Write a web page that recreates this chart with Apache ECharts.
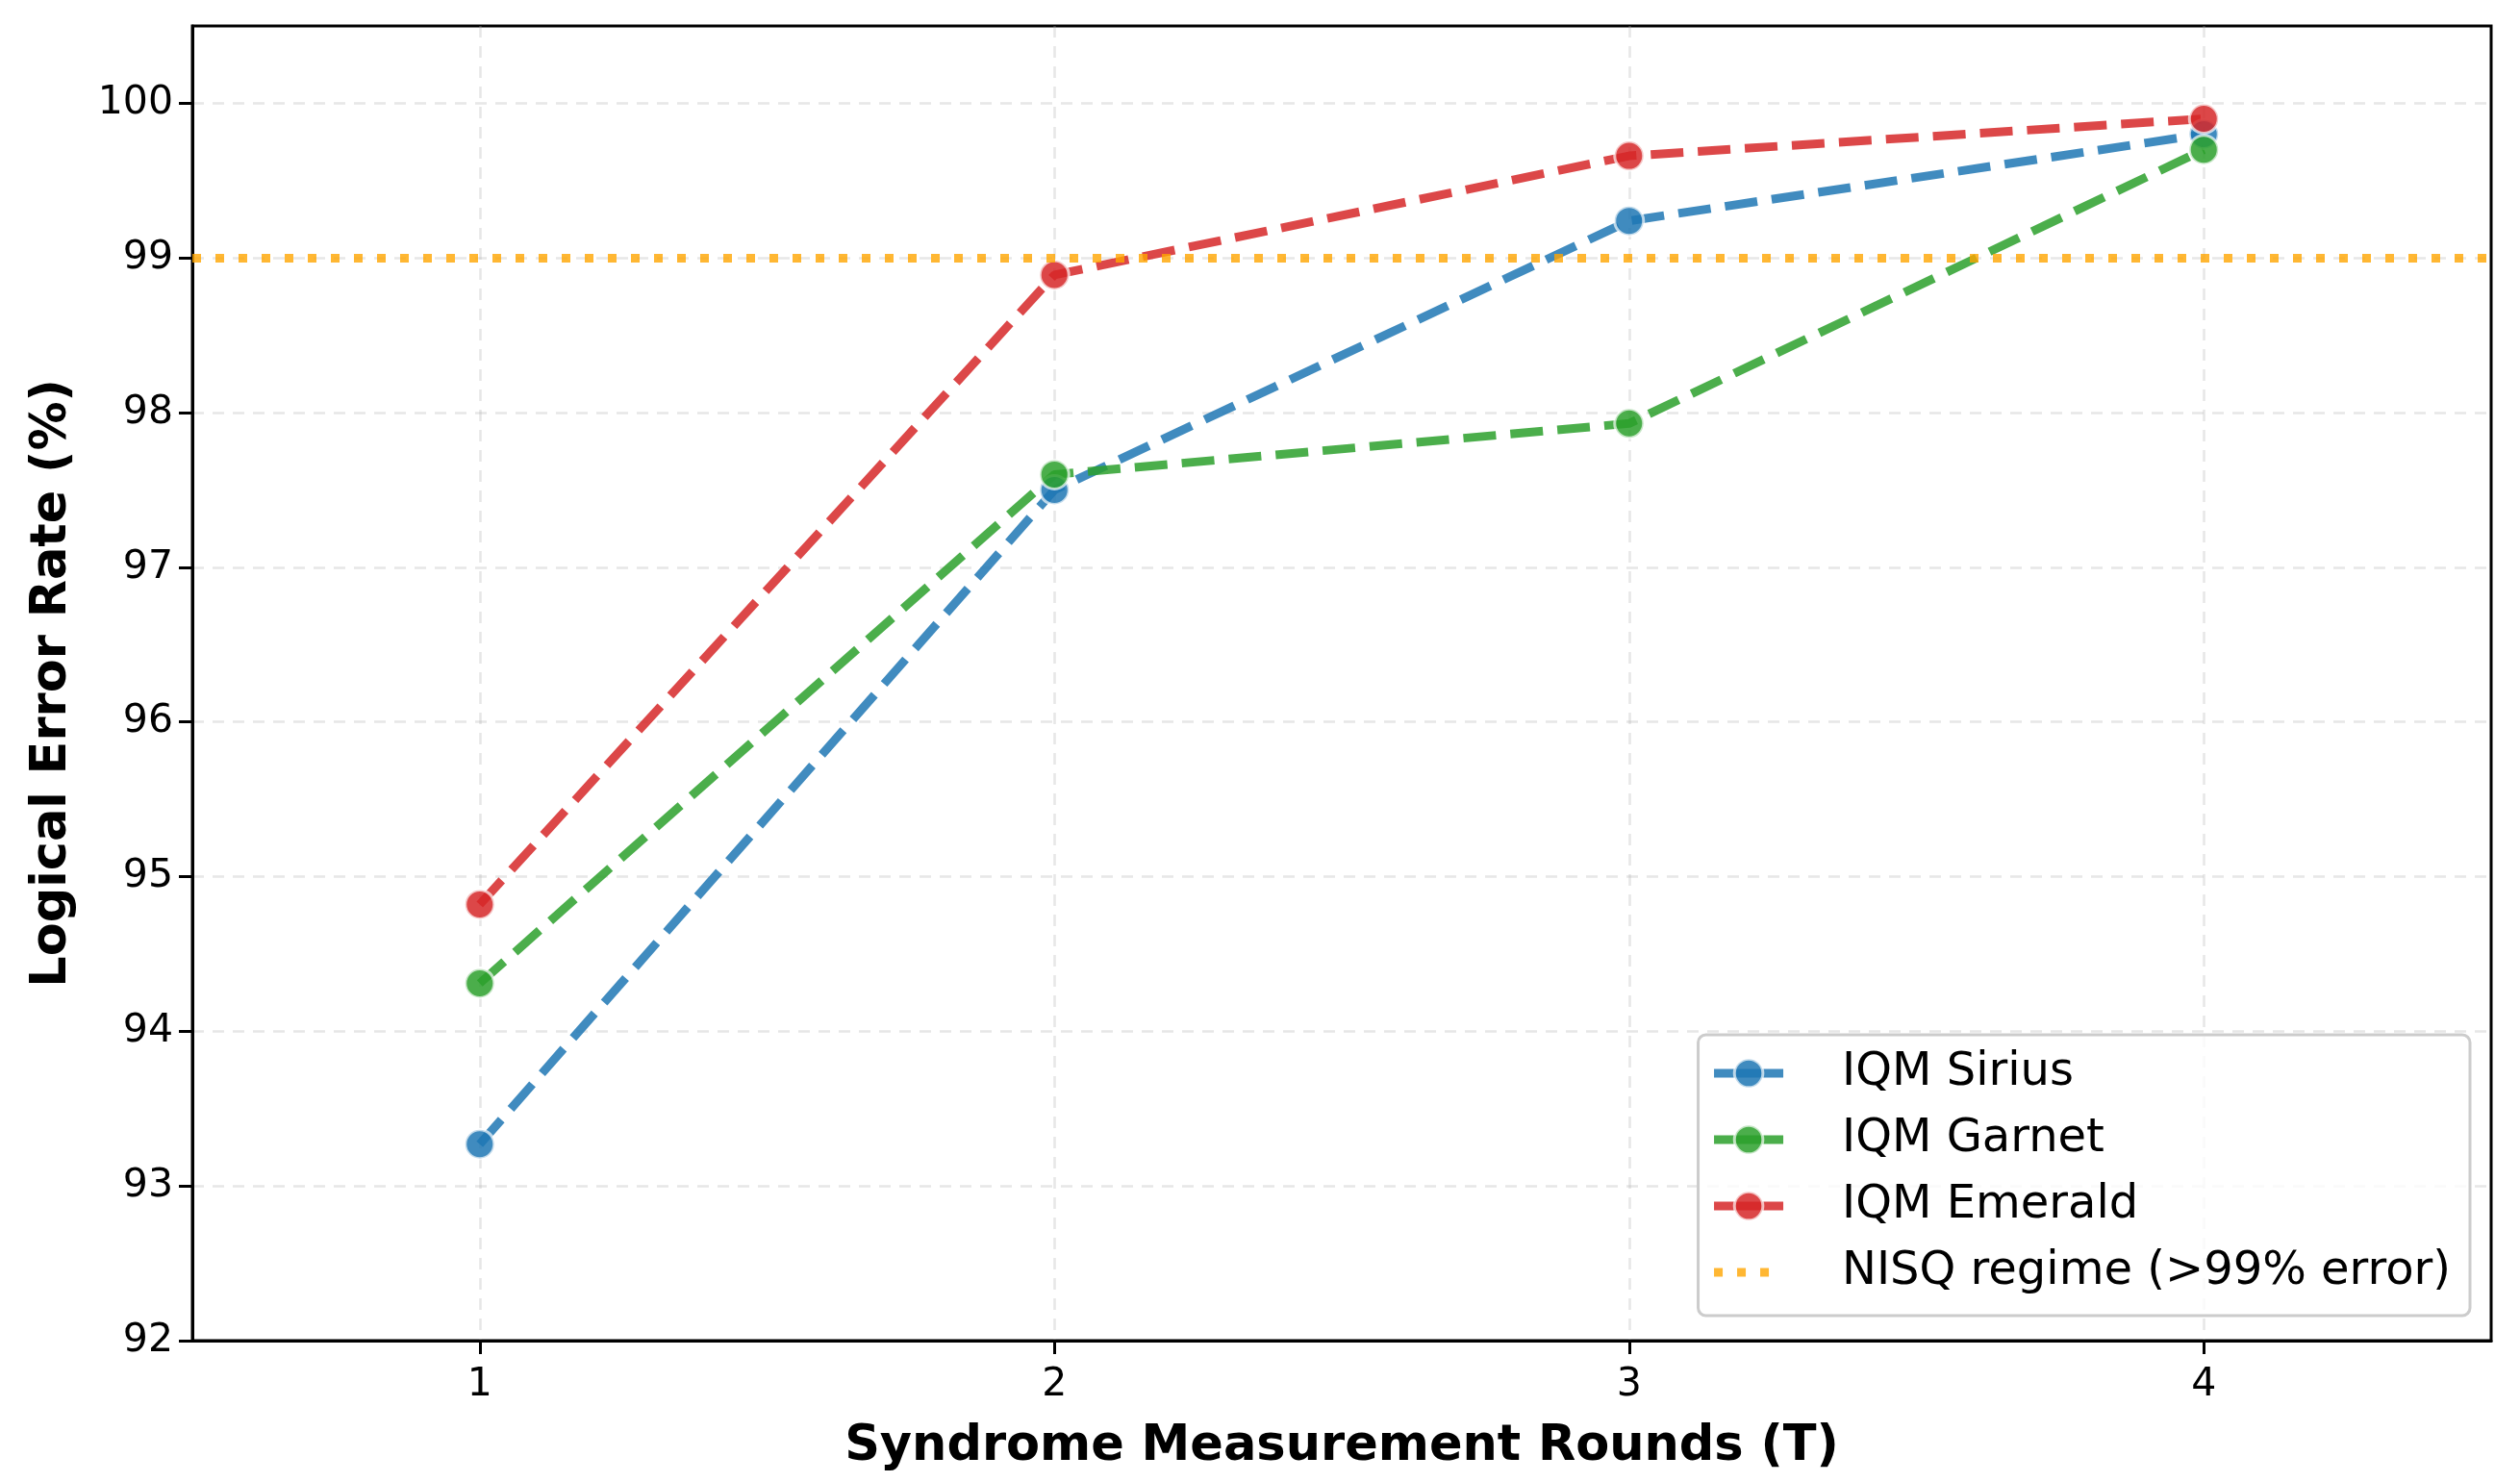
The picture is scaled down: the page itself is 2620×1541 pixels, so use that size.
<!DOCTYPE html>
<html>
<head>
<meta charset="utf-8">
<script src="https://cdn.jsdelivr.net/npm/echarts@6/dist/echarts.min.js"></script>
<style>
html,body{margin:0;padding:0;background:#fff;}
#chart{width:2620px;height:1541px;}
</style>
</head>
<body>
<div id="chart"></div>
<script>
const rounds = [1, 2, 3, 4];
const xTicks = [1, 2, 3, 4];
const yTicks = [92, 93, 94, 95, 96, 97, 98, 99, 100];
const sirius = [93.27, 97.5, 99.24, 99.8];
const garnet = [94.31, 97.6, 97.93, 99.7];
const emerald = [94.82, 98.89, 99.66, 99.9];
const nisqThreshold = 99;
const seriesNames = ['IQM Sirius', 'IQM Garnet', 'IQM Emerald', 'NISQ regime (>99% error)'];
const colors = ['#1f77b4', '#2ca02c', '#d62728', '#FFA500'];

const FONT = 'DejaVu Sans';
const chart = echarts.init(document.getElementById('chart'));

function lineSeries(name, values, color) {
  return {
    name: name,
    type: 'line',
    data: rounds.map((r, i) => [r, values[i]]),
    symbol: 'circle',
    symbolSize: 30,
    lineStyle: { color: color, width: 9, type: [34, 15], opacity: 0.85 },
    itemStyle: { color: color, opacity: 0.85, borderColor: 'rgba(255,255,255,0.8)', borderWidth: 3 },
    emphasis: { disabled: true },
    animation: false,
    z: 3
  };
}

function legendItem(i) {
  return {
    name: seriesNames[i],
    itemStyle: { color: colors[i], opacity: 0.85, borderColor: 'rgba(255,255,255,0.8)', borderWidth: 3 },
    lineStyle: { color: colors[i], width: 9, type: 'solid', opacity: 0.85 }
  };
}

const option = {
  animation: false,
  backgroundColor: '#fff',
  grid: {
    left: 200, right: 30, top: 27, bottom: 147,
    show: true, borderColor: '#000', borderWidth: 3, backgroundColor: 'transparent'
  },
  xAxis: {
    type: 'value',
    min: 0.5, max: 4.5,
    name: 'Syndrome Measurement Rounds (T)',
    nameLocation: 'middle',
    nameGap: 85,
    nameTextStyle: { fontFamily: FONT, fontSize: 51, fontWeight: 'bold', color: '#000' },
    axisLine: { show: true, onZero: false, lineStyle: { color: '#000', width: 3 } },
    axisTick: { show: true, inside: false, length: 14, lineStyle: { color: '#000', width: 3 }, customValues: xTicks },
    axisLabel: { fontFamily: FONT, fontSize: 41, color: '#000', margin: 26, customValues: xTicks },
    splitLine: { show: true, lineStyle: { color: 'rgba(176,176,176,0.3)', width: 2.5, type: [12, 9] } }
  },
  yAxis: {
    type: 'value',
    min: 92, max: 100.5,
    name: 'Logical Error Rate (%)',
    nameLocation: 'middle',
    nameGap: 120,
    nameRotate: 90,
    nameTextStyle: { fontFamily: FONT, fontSize: 51, fontWeight: 'bold', color: '#000' },
    axisLine: { show: true, onZero: false, lineStyle: { color: '#000', width: 3 } },
    axisTick: { show: true, inside: false, length: 14, lineStyle: { color: '#000', width: 3 }, customValues: yTicks },
    axisLabel: { fontFamily: FONT, fontSize: 41, color: '#000', margin: 20, customValues: yTicks },
    splitLine: { show: true, lineStyle: { color: 'rgba(176,176,176,0.3)', width: 2.5, type: [12, 9] } }
  },
  legend: {
    data: [
      legendItem(0), legendItem(1), legendItem(2),
      {
        name: seriesNames[3],
        itemStyle: { opacity: 0 },
        lineStyle: { color: colors[3], width: 9, type: [9, 15], opacity: 0.8 }
      }
    ],
    orient: 'vertical',
    right: 52,
    bottom: 173,
    padding: [15, 20, 20, 12],
    itemWidth: 72,
    itemHeight: 37,
    itemGap: 19,
    backgroundColor: 'rgba(255,255,255,0.8)',
    borderColor: '#cccccc',
    borderWidth: 3,
    borderRadius: 8,
    textStyle: { fontFamily: FONT, fontSize: 48, color: '#000', lineHeight: 50, padding: [0, 0, 0, 56] }
  },
  series: [
    lineSeries(seriesNames[0], sirius, colors[0]),
    lineSeries(seriesNames[1], garnet, colors[1]),
    lineSeries(seriesNames[2], emerald, colors[2]),
    {
      name: seriesNames[3],
      type: 'line',
      data: [],
      symbol: 'none',
      lineStyle: { color: colors[3], width: 9, type: [9, 15], opacity: 0.8 },
      itemStyle: { color: colors[3], opacity: 0.8 },
      z: 2,
      markLine: {
        silent: true,
        symbol: ['none', 'none'],
        label: { show: false },
        lineStyle: { color: colors[3], width: 9, type: [9, 15], opacity: 0.8 },
        emphasis: { disabled: true },
        data: [{ yAxis: nisqThreshold }],
        animation: false
      }
    }
  ]
};
chart.setOption(option);
</script>
</body>
</html>
